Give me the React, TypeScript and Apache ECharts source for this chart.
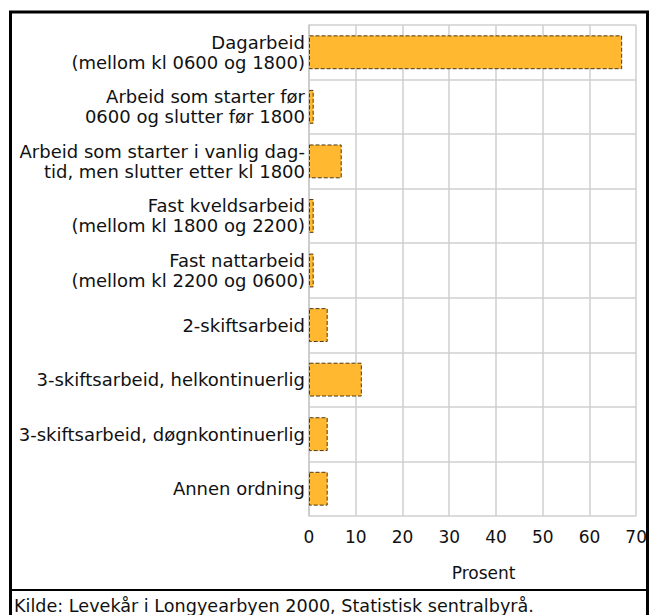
import React, { useEffect, useRef } from "react";
import * as echarts from "echarts";

const categories = [
  "Dagarbeid\n(mellom kl 0600 og 1800)",
  "Arbeid som starter før\n0600 og slutter før 1800",
  "Arbeid som starter i vanlig dag-\ntid, men slutter etter kl 1800",
  "Fast kveldsarbeid\n(mellom kl 1800 og 2200)",
  "Fast nattarbeid\n(mellom kl 2200 og 0600)",
  "2-skiftsarbeid",
  "3-skiftsarbeid, helkontinuerlig",
  "3-skiftsarbeid, døgnkontinuerlig",
  "Annen ordning",
];
const values = [67, 1, 7, 1, 1, 4, 11.3, 4, 4];
const axisName = "Prosent";
const footnote = "Kilde: Levekår i Longyearbyen 2000, Statistisk sentralbyrå.";

const FONT = "DejaVu Sans";

export default function App() {
  const ref = useRef<HTMLDivElement>(null);
  useEffect(() => {
    if (!ref.current) return;
    const chart = echarts.init(ref.current, null, { renderer: "svg" });
    chart.setOption({
      animation: false,
      backgroundColor: "#ffffff",
      grid: { left: 309, right: 10, top: 25, bottom: 99, containLabel: false },
      xAxis: {
        type: "value",
        min: 0,
        max: 70,
        interval: 10,
        name: axisName,
        nameLocation: "middle",
        nameGap: 48,
        nameTextStyle: { fontFamily: FONT, fontSize: 17, color: "#111", padding: [0, 0, 0, 22] },
        axisLine: { show: false },
        axisTick: { show: false },
        axisLabel: { fontFamily: FONT, fontSize: 17, color: "#111", margin: 12 },
        splitLine: { show: true, lineStyle: { color: "#cfcfcf", width: 1.5 } },
      },
      yAxis: {
        type: "category",
        data: categories,
        inverse: true,
        axisLine: { show: true, lineStyle: { color: "#c8c8c8", width: 1.5 } },
        axisTick: { show: false },
        axisLabel: {
          fontFamily: FONT,
          fontSize: 18,
          color: "#111",
          lineHeight: 20,
          margin: 4,
          align: "right",
        },
        splitLine: { show: true, lineStyle: { color: "#cfcfcf", width: 1.5 } },
      },
      series: [
        {
          type: "bar",
          data: values,
          barCategoryGap: "38%",
          itemStyle: {
            color: "#FFB830",
            borderColor: "#4a3818",
            borderWidth: 1,
            borderType: "dashed",
          },
        },
      ],
      graphic: [
        {
          type: "rect",
          shape: { x: 10.5, y: 12, width: 637, height: 640 },
          style: { fill: "none", stroke: "#000", lineWidth: 3 },
          silent: true,
        },
        {
          type: "line",
          shape: { x1: 10, y1: 590, x2: 648, y2: 590 },
          style: { stroke: "#000", lineWidth: 2 },
          silent: true,
        },
        {
          type: "text",
          x: 14,
          y: 597,
          style: { text: footnote, fontFamily: FONT, fontSize: 17.6, fill: "#111" },
          silent: true,
        },
      ],
    });
    return () => chart.dispose();
  }, []);
  return (
    <div
      ref={ref}
      style={{ position: "absolute", left: 0, top: 0, width: 650, height: 615 }}
    />
  );
}
